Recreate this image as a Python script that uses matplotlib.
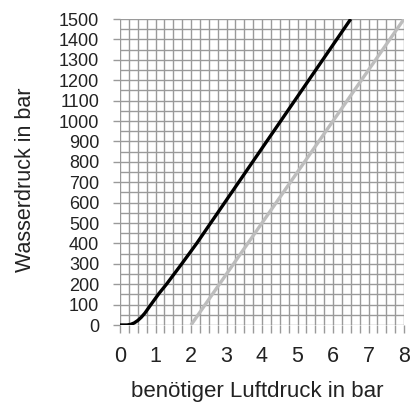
import numpy as np
import matplotlib
matplotlib.use("Agg")
import matplotlib.pyplot as plt

plt.rcParams["font.family"] = ["Liberation Sans", "DejaVu Sans"]

# Luftdruck (x) / Wasserdruck (y)
black_x = [0.0, 0.2, 0.3, 0.4, 0.5, 0.6, 0.7, 0.85, 1.1, 1.31, 1.74, 2.16, 6.5]
black_y = [0, 0, 3, 10, 22, 38, 58, 95, 155, 200, 300, 400, 1500]
gray_x = [2.0, 8.0]
gray_y = [0, 1500]

x_ticks = list(range(0, 9))
y_ticks = list(range(0, 1501, 100))

fig = plt.figure(figsize=(4.11, 4.03), dpi=100)
ax = fig.add_axes([120 / 411, 78 / 403, 284 / 411, 306 / 403])

grid_c = "#9a9a9a"
ax.set_xticks(np.arange(0, 8.01, 0.25), minor=True)
ax.set_yticks(np.arange(0, 1501, 50), minor=True)
ax.set_xticks(x_ticks)
ax.set_yticks(y_ticks)
ax.grid(True, which="both", color=grid_c, linewidth=1.0)
ax.set_axisbelow(True)

ax.plot(gray_x, gray_y, color="#bdbdbd", linewidth=2.4, solid_capstyle="butt")
ax.plot(black_x, black_y, color="black", linewidth=2.4, solid_capstyle="butt")

ax.set_xlim(0, 8)
ax.set_ylim(0, 1500)
for s in ax.spines.values():
    s.set_visible(False)

ax.tick_params(axis="x", which="both", length=6, width=1.0, color=grid_c,
               pad=9, labelsize=15.5, labelcolor="#222222")
ax.tick_params(axis="y", which="major", length=5, width=1.0, color=grid_c,
               pad=10, labelsize=13, labelcolor="#222222")
ax.tick_params(axis="y", which="minor", length=0)

ax.set_xlabel("benötiger Luftdruck in bar", fontsize=16, color="#222222")
ax.set_ylabel("Wasserdruck in bar", fontsize=15.5, color="#222222")
ax.xaxis.set_label_coords(0.482, -0.183)
ax.yaxis.set_label_coords(-0.296, 0.475)

fig.savefig("out.png", dpi=100)
